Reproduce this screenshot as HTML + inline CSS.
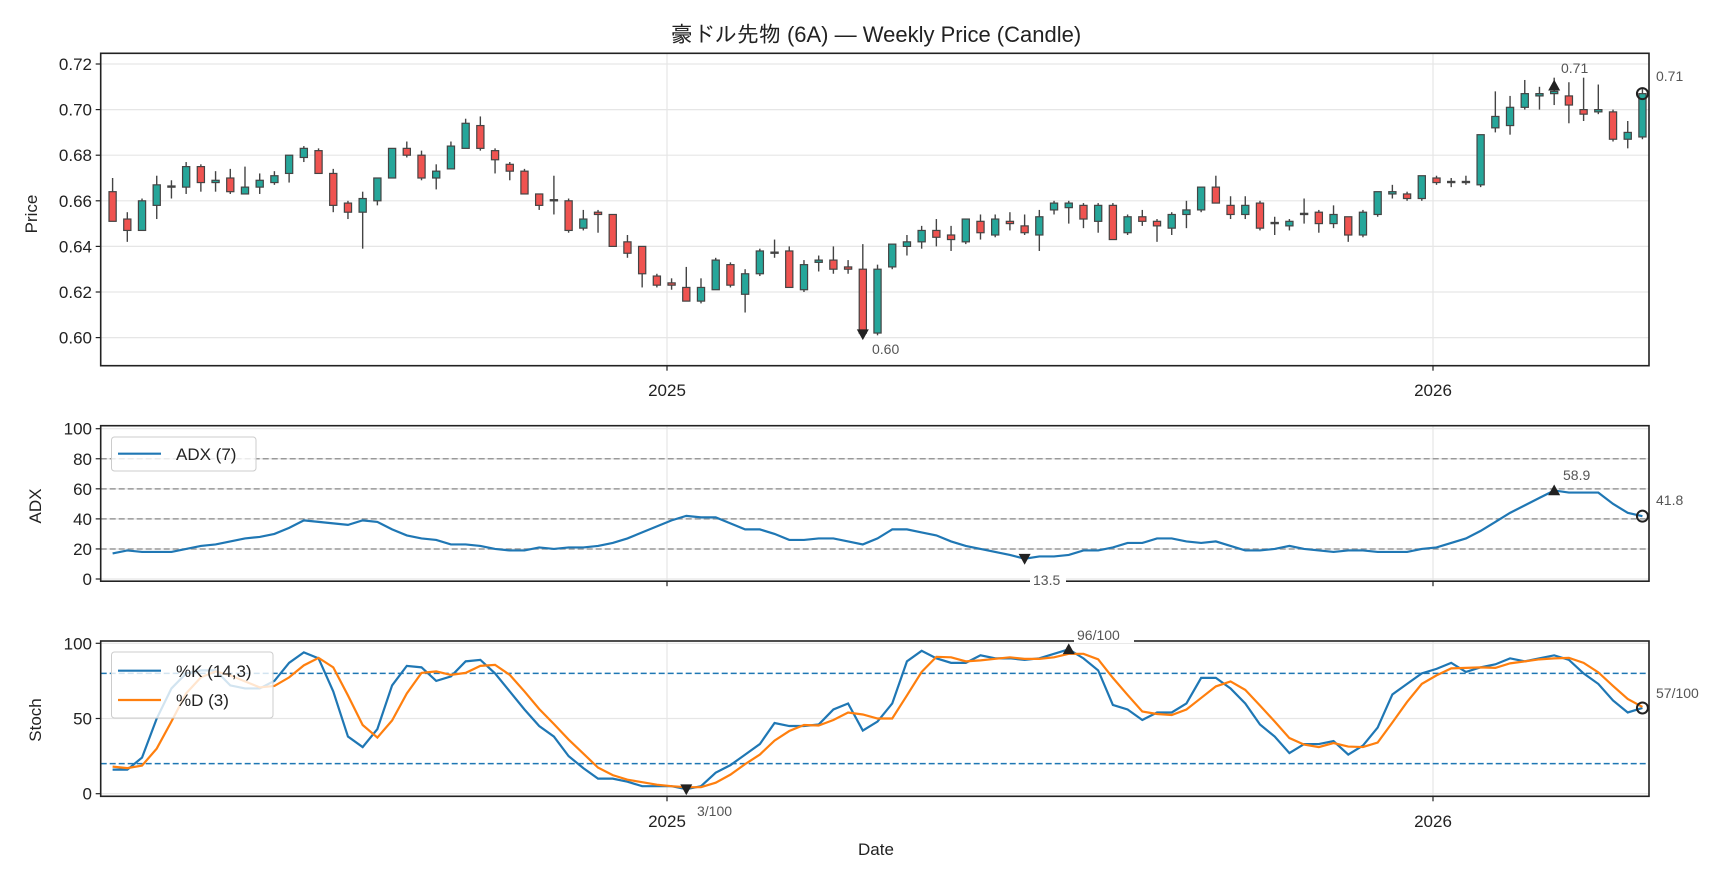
<!DOCTYPE html>
<html><head><meta charset="utf-8">
<style>
html,body{margin:0;padding:0;background:#fff;}
svg{display:block;font-family:"Liberation Sans","IPAGothic","Noto Sans CJK JP",sans-serif;}
.tk{font-size:17px;fill:#222;}
.an{font-size:14px;fill:#555;}
</style></head>
<body>
<svg id="s" width="1728" height="878" viewBox="0 0 1728 878" xmlns="http://www.w3.org/2000/svg">
<rect width="1728" height="878" fill="#fff"/>
<g id="grid"></g>
<g id="plot"></g>
<!-- axes frames -->
<rect x="100.7" y="53.3" width="1548.3" height="312.4" fill="none" stroke="#222" stroke-width="1.6"/>
<rect x="100.7" y="425.7" width="1548.3" height="155.5" fill="none" stroke="#222" stroke-width="1.6"/>
<rect x="100.7" y="641" width="1548.3" height="155.3" fill="none" stroke="#222" stroke-width="1.6"/>
<g id="ticks" stroke="#222" stroke-width="1.2"></g>
<text x="876" y="42" text-anchor="middle" style="font-size:22px;fill:#222">豪ドル先物 (6A) — Weekly Price (Candle)</text>
<!-- price y labels -->
<g class="tk" text-anchor="end">
<text x="92" y="70">0.72</text><text x="92" y="115.6">0.70</text><text x="92" y="161.2">0.68</text>
<text x="92" y="206.8">0.66</text><text x="92" y="252.4">0.64</text><text x="92" y="298">0.62</text>
<text x="92" y="343.6">0.60</text>
<text x="92" y="434.7">100</text><text x="92" y="464.8">80</text><text x="92" y="494.8">60</text>
<text x="92" y="524.9">40</text><text x="92" y="555">20</text><text x="92" y="585">0</text>
<text x="92" y="649.3">100</text><text x="92" y="724.5">50</text><text x="92" y="799.7">0</text>
</g>
<g class="tk" text-anchor="middle">
<text x="667" y="396">2025</text><text x="1433" y="396">2026</text>
<text x="667" y="827">2025</text><text x="1433" y="827">2026</text>
<text x="876" y="855">Date</text>
</g>
<g class="tk" text-anchor="middle">
<text transform="translate(37,214) rotate(-90)">Price</text>
<text transform="translate(41,506) rotate(-90)">ADX</text>
<text transform="translate(41,720) rotate(-90)">Stoch</text>
</g>
<!-- legends -->
<rect x="111.5" y="437" width="144.5" height="34" rx="3" fill="#fff" fill-opacity="0.8" stroke="#ccc"/>
<line x1="118" y1="453.7" x2="161" y2="453.7" stroke="#1f77b4" stroke-width="2.2"/>
<text x="176" y="460" class="tk">ADX (7)</text>
<g id="leg2"></g>
<g id="ann" class="an"></g>
</svg>
<script>
const NS="http://www.w3.org/2000/svg";
function el(p,t,a){const e=document.createElementNS(NS,t);for(const k in a)e.setAttribute(k,a[k]);p.appendChild(e);return e;}
const g=document.getElementById('grid'),P=document.getElementById('plot'),T=document.getElementById('ticks');
const X0=100.7,X1=1649;
const py=p=>64+(0.72-p)*2280, ay=v=>579-v*1.503, sy=v=>793.7-v*1.504;
// grid
[0.72,0.70,0.68,0.66,0.64,0.62,0.60].forEach(p=>{el(g,'line',{x1:X0,x2:X1,y1:py(p),y2:py(p),stroke:'#e6e6e6','stroke-width':1.2});el(T,'line',{x1:X0-5,x2:X0,y1:py(p),y2:py(p)});});
[0,20,40,60,80,100].forEach(v=>{el(g,'line',{x1:X0,x2:X1,y1:ay(v),y2:ay(v),stroke:'#e6e6e6','stroke-width':1.2});el(T,'line',{x1:X0-5,x2:X0,y1:ay(v),y2:ay(v)});});
[0,50,100].forEach(v=>{el(g,'line',{x1:X0,x2:X1,y1:sy(v),y2:sy(v),stroke:'#e6e6e6','stroke-width':1.2});el(T,'line',{x1:X0-5,x2:X0,y1:sy(v),y2:sy(v)});});
[667,1433].forEach(x=>{[[53.3,365.7],[425.7,581.2],[641,796.3]].forEach(r=>{el(g,'line',{x1:x,x2:x,y1:r[0],y2:r[1],stroke:'#e6e6e6','stroke-width':1.2});el(T,'line',{x1:x,x2:x,y1:r[1],y2:r[1]+5});});});
[20,40,60,80].forEach(v=>el(g,'line',{x1:X0,x2:X1,y1:ay(v),y2:ay(v),stroke:'#999','stroke-width':1.5,'stroke-dasharray':'6,3'}));
[20,80].forEach(v=>el(g,'line',{x1:X0,x2:X1,y1:sy(v),y2:sy(v),stroke:'#1f77b4','stroke-width':1.5,'stroke-dasharray':'6,3'}));
// OHLC
const C=[[.664,.651,.670,.651],[.652,.647,.655,.642],[.647,.660,.661,.647],[.658,.667,.671,.652],[.666,.6665,.669,.661],[.666,.675,.677,.663],[.675,.668,.676,.664],[.668,.669,.673,.664],[.670,.664,.674,.663],[.663,.666,.675,.663],
[.666,.669,.672,.663],[.668,.671,.673,.667],[.672,.680,.680,.668],[.679,.683,.684,.677],[.682,.672,.683,.672],[.672,.658,.674,.655],[.659,.655,.660,.652],[.655,.661,.664,.639],[.660,.670,.670,.658],[.670,.683,.683,.670],
[.683,.680,.686,.679],[.680,.670,.682,.669],[.670,.673,.676,.665],[.674,.684,.686,.674],[.683,.694,.696,.683],[.693,.683,.697,.682],[.682,.678,.683,.672],[.676,.673,.677,.669],[.673,.663,.674,.663],[.663,.658,.663,.656],
[.6605,.660,.671,.654],[.660,.647,.661,.646],[.648,.652,.656,.647],[.655,.654,.656,.646],[.654,.640,.654,.640],[.642,.637,.645,.635],[.640,.628,.640,.622],[.627,.623,.628,.622],[.624,.623,.626,.621],[.622,.616,.631,.616],
[.616,.622,.626,.615],[.621,.634,.635,.621],[.632,.623,.633,.622],[.619,.628,.630,.611],[.628,.638,.639,.627],[.6375,.637,.643,.635],[.638,.622,.640,.622],[.621,.632,.634,.620],[.633,.634,.636,.629],[.634,.630,.640,.628],
[.631,.630,.634,.628],[.630,.602,.641,.602],[.602,.630,.632,.601],[.631,.641,.641,.630],[.640,.642,.645,.636],[.642,.647,.649,.639],[.647,.644,.652,.640],[.645,.643,.649,.638],[.642,.652,.652,.641],[.651,.646,.654,.643],
[.645,.652,.654,.644],[.651,.650,.655,.647],[.649,.646,.654,.645],[.645,.653,.656,.638],[.656,.659,.660,.654],[.657,.659,.660,.650],[.658,.652,.659,.648],[.651,.658,.659,.646],[.658,.643,.659,.643],[.646,.653,.654,.645],
[.653,.651,.656,.649],[.651,.649,.652,.642],[.648,.654,.655,.645],[.654,.656,.660,.648],[.656,.666,.666,.655],[.666,.659,.671,.659],[.658,.654,.662,.652],[.654,.658,.662,.652],[.659,.648,.660,.647],[.6505,.650,.653,.645],
[.649,.651,.652,.647],[.6545,.654,.661,.650],[.655,.650,.656,.646],[.650,.654,.658,.648],[.653,.645,.653,.642],[.645,.655,.656,.644],[.654,.664,.664,.653],[.663,.664,.667,.661],[.663,.661,.664,.660],[.661,.671,.671,.660],
[.670,.668,.671,.667],[.6685,.668,.670,.666],[.668,.6685,.671,.667],[.667,.689,.689,.666],[.692,.697,.708,.690],[.693,.701,.706,.689],[.701,.707,.713,.700],[.706,.707,.710,.700],[.707,.708,.714,.702],[.706,.702,.712,.694],
[.700,.698,.714,.695],[.699,.700,.711,.698],[.699,.687,.700,.686],[.687,.690,.695,.683],[.688,.707,.709,.687]];
const cx=i=>112.6+i*14.71;
C.forEach((c,i)=>{const[o,cl,h,l]=c;const x=cx(i);const up=cl>=o;
el(P,'line',{x1:x,x2:x,y1:py(h),y2:py(l),stroke:'#444','stroke-width':1.4});
const t=py(Math.max(o,cl)),b=py(Math.min(o,cl));
el(P,'rect',{x:x-3.6,y:t,width:7.2,height:Math.max(b-t,1.2),fill:up?'#26a69a':'#ef5350',stroke:'#444','stroke-width':1.2});});
// ADX
const A=[17,19,18,18,18,20,22,23,25,27,28,30,34,39,38,37,36,39,38,33,29,27,26,23,23,22,20,19,19,21,20,21,21,22,24,27,31,35,39,42,41,41,37,33,33,30,26,26,27,27,25,23,27,33,33,31,29,25,22,20,18,16,13.5,15,15,16,19,19,21,24,24,27,27,25,24,25,22,19,19,20,22,20,19,18,19,19,18,18,18,20,21,24,27,32,38,44,49,54,58.9,57.5,57.5,57.5,50,44,41.8];
el(P,'polyline',{points:A.map((v,i)=>cx(i)+','+ay(v)).join(' '),fill:'none',stroke:'#1f77b4','stroke-width':2.2});
const K=[16,16,24,50,70,80,82,82,72,70,70,75,87,94,90,68,38,31,43,72,85,84,75,78,88,89,80,68,56,45,38,25,17,10,10,8,5,5,5,3,5,14,19,26,33,47,45,45,46,56,60,42,48,60,88,95,90,87,87,92,90,90,89,90,93,96,90,82,59,56,49,54,54,60,77,77,70,60,46,38,27,33,33,35,26,32,44,66,73,80,83,87,81,84,86,90,88,90,92,89,80,73,62,54,57];
const D=K.map((v,i)=>i<2?(i==0?18:17):(K[i]+K[i-1]+K[i-2])/3);
el(P,'polyline',{points:K.map((v,i)=>cx(i)+','+sy(v)).join(' '),fill:'none',stroke:'#1f77b4','stroke-width':2.2});
el(P,'polyline',{points:D.map((v,i)=>cx(i)+','+sy(v)).join(' '),fill:'none',stroke:'#ff7f0e','stroke-width':2.2});
// markers
function tri(x,y,up){const s=6;el(P,'path',{d:up?`M${x-s},${y+s*.8}L${x+s},${y+s*.8}L${x},${y-s}Z`:`M${x-s},${y-s*.8}L${x+s},${y-s*.8}L${x},${y+s}Z`,fill:'#222'});}
function circ(x,y){el(P,'circle',{cx:x,cy:y,r:5.5,fill:'none',stroke:'#222','stroke-width':2});}
tri(cx(51),py(0.6015),false);tri(cx(98),py(0.7105),true);circ(cx(104),py(0.707));
tri(cx(98),ay(58.9),true);circ(cx(104),ay(41.8));tri(cx(62),ay(13.5),false);
tri(cx(65),sy(96),true);tri(cx(39),sy(3),false);circ(cx(104),sy(57));
</script>
<svg style="position:absolute;left:0;top:0" width="1728" height="878" viewBox="0 0 1728 878">
<g style="font-family:'Liberation Sans',sans-serif;font-size:14px;fill:#555">
<text x="872" y="354">0.60</text>
<text x="1561" y="73">0.71</text>
<text x="1656" y="81">0.71</text>
<text x="1563" y="480">58.9</text>
<text x="1656" y="505">41.8</text>
<rect x="1030" y="572" width="36" height="16" fill="#fff"/>
<text x="1033" y="585">13.5</text>
<rect x="1074" y="627" width="60" height="16" fill="#fff"/>
<text x="1077" y="640">96/100</text>
<text x="697" y="816">3/100</text>
<text x="1656" y="698">57/100</text>
</g>
<rect x="111.5" y="652" width="161.5" height="66" rx="3" fill="#fff" fill-opacity="0.8" stroke="#ccc"/>
<line x1="118" y1="670.7" x2="161" y2="670.7" stroke="#1f77b4" stroke-width="2.2"/>
<line x1="118" y1="700" x2="161" y2="700" stroke="#ff7f0e" stroke-width="2.2"/>
<g style="font-family:'Liberation Sans',sans-serif;font-size:17px;fill:#222">
<text x="176" y="677">%K (14,3)</text>
<text x="176" y="706">%D (3)</text>
</g>
</svg>
</body></html>
